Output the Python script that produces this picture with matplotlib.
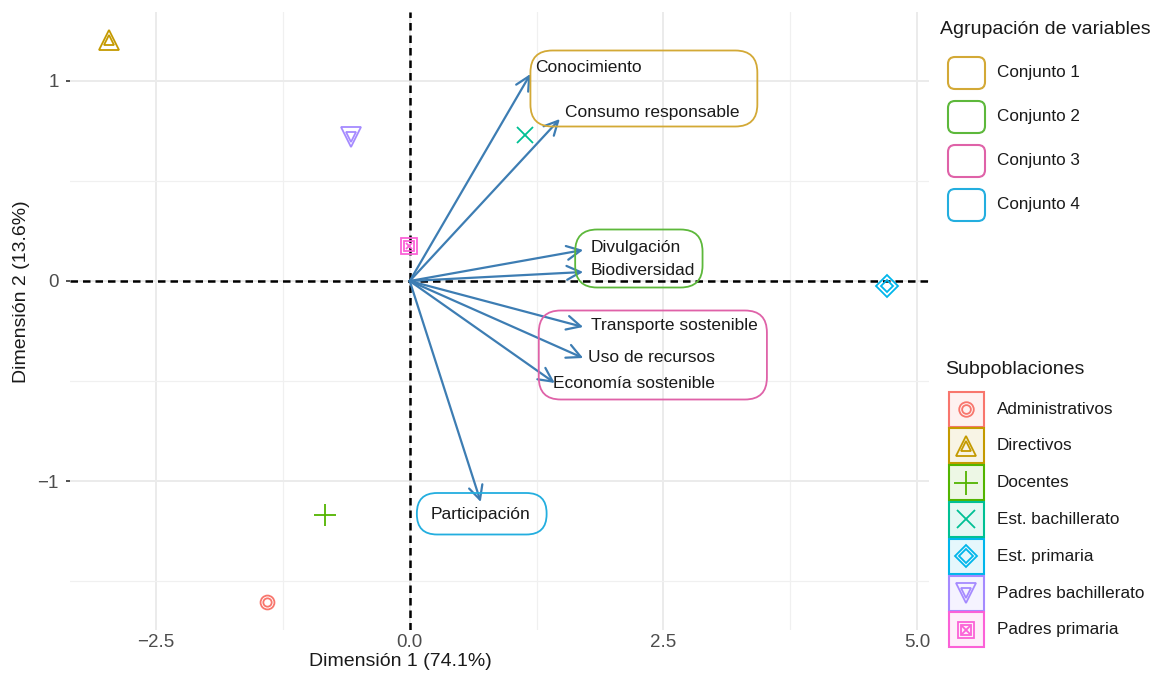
import numpy as np
import matplotlib.pyplot as plt
from matplotlib.patches import FancyBboxPatch, Rectangle
from matplotlib.transforms import IdentityTransform
from matplotlib.colors import to_rgba

plt.rcParams['font.family'] = ['Liberation Sans', 'DejaVu Sans']

# subpopulations (row coordinates)
groups = ['Administrativos', 'Directivos', 'Docentes', 'Est. bachillerato',
          'Est. primaria', 'Padres bachillerato', 'Padres primaria']
grp_x = [-1.41, -2.97, -0.84, 1.14, 4.71, -0.58, -0.01]
grp_y = [-1.605, 1.205, -1.17, 0.73, -0.025, 0.72, 0.175]
grp_colors = ['#F8766D', '#C49A00', '#53B400', '#00C094', '#00B6EB', '#A58AFF', '#FB61D7']

# variables (column coordinates, drawn as arrows)
variables = ['Conocimiento', 'Consumo responsable', 'Divulgación', 'Biodiversidad',
             'Transporte sostenible', 'Uso de recursos', 'Economía sostenible', 'Participación']
var_x = [1.19, 1.48, 1.71, 1.71, 1.71, 1.71, 1.43, 0.70]
var_y = [1.035, 0.81, 0.155, 0.045, -0.23, -0.385, -0.51, -1.105]
var_set = [0, 0, 1, 1, 2, 2, 2, 3]

sets = ['Conjunto 1', 'Conjunto 2', 'Conjunto 3', 'Conjunto 4']
set_colors = ['#D3A936', '#5DB83B', '#DF62A8', '#23AEDF']

# styling
marker_layers = {
    'Administrativos': [('o', 10), ('o', 6)],
    'Directivos': [('^', 14), ('^', 7.5)],
    'Docentes': [('+', 16)],
    'Est. bachillerato': [('x', 12)],
    'Est. primaria': [('D', 11), ('D', 6.5)],
    'Padres bachillerato': [('v', 14), ('v', 7.5)],
    'Padres primaria': [('s', 11), ('s', 7), ('x', 5)],
}
# label offsets in pixels (dx, dy, ha)
label_off = [(5, 6, 'left'), (5, 6, 'left'), (7, 2, 'left'), (7, 1, 'left'),
             (8, 1, 'left'), (5, 0, 'left'), (-2, -1, 'left'), (0, -13, 'center')]
# extra box padding (left, right, bottom, top) in pixels
box_pad = [(0, 18, 6, 10), (8, 8, 9, 11), (14, 9, 8, 8), (14, 16, 12, 9)]
arrow_col = '#3D7DB3'
txt_col = '#1A1A1A'

fig = plt.figure(figsize=(11.52, 6.75), dpi=100)
ax = fig.add_axes([70/1152, 45/675, 859/1152, 618/675])

ax.set_xlim(-3.35, 5.12)
ax.set_ylim(-1.745, 1.345)
xt = [-2.5, 0, 2.5, 5]
yt = [-1, 0, 1]
ax.set_xticks(xt)
ax.set_xticklabels([f'{t:.1f}'.replace('-', '\u2212') for t in xt])
ax.set_yticks(yt)
ax.set_yticklabels([f'{t:d}'.replace('-', '\u2212') for t in yt])
ax.set_xticks([-1.25, 1.25, 3.75], minor=True)
ax.set_yticks([-1.5, -0.5, 0.5], minor=True)
ax.grid(which='major', color='#EBEBEB', lw=1.4)
ax.grid(which='minor', color='#F0F0F0', lw=0.9)
ax.set_axisbelow(True)
for sp in ax.spines.values():
    sp.set_visible(False)
ax.tick_params(axis='x', which='major', length=0, pad=3, labelsize=13.5, labelcolor='#4D4D4D')
ax.tick_params(axis='y', which='major', length=3, width=1.2, color='#333333', pad=5,
               labelsize=13.5, labelcolor='#4D4D4D')
ax.tick_params(which='minor', length=0)

ax.axhline(0, color='black', ls=(0, (3, 2)), lw=1.8, zorder=2)
ax.axvline(0, color='black', ls=(0, (3, 2)), lw=1.8, zorder=2)

# points
for g, x, y, c in zip(groups, grp_x, grp_y, grp_colors):
    for m, s in marker_layers[g]:
        ax.plot(x, y, marker=m, ms=s, mfc='none', mec=c, mew=1.3, ls='none', zorder=3)

# arrows and labels
texts = []
for i, v in enumerate(variables):
    ax.annotate('', xy=(var_x[i], var_y[i]), xytext=(0, 0),
                arrowprops=dict(arrowstyle='->,head_length=1.0,head_width=0.5',
                                color=arrow_col, lw=1.6, shrinkA=0, shrinkB=0,
                                mutation_scale=10), zorder=4)
    dx, dy, ha = label_off[i]
    t = ax.annotate(v, xy=(var_x[i], var_y[i]), xytext=(dx, dy), textcoords='offset pixels',
                    ha=ha, va='center', fontsize=12.5, color=txt_col, zorder=5)
    texts.append(t)

# group boxes around arrow tips and labels
fig.canvas.draw()
rend = fig.canvas.get_renderer()
for k, col in enumerate(set_colors):
    xs, ys = [], []
    for i in range(len(variables)):
        if var_set[i] != k:
            continue
        bb = texts[i].get_window_extent(rend)
        xs += [bb.x0, bb.x1]
        ys += [bb.y0, bb.y1]
        px, py = ax.transData.transform((var_x[i], var_y[i]))
        xs.append(px)
        ys.append(py)
    pl, pr, pb, pt = box_pad[k]
    x0, x1 = min(xs) - pl, max(xs) + pr
    y0, y1 = min(ys) - pb, max(ys) + pt
    rs = min(22, (y1 - y0) / 2 - 0.5)
    box = FancyBboxPatch((x0, y0), x1 - x0, y1 - y0,
                         boxstyle=f'round,pad=0,rounding_size={rs:.1f}',
                         transform=IdentityTransform(), fc='none', ec=col, lw=1.3, zorder=6)
    fig.add_artist(box)

# axis titles
fig.text(400/1152, 1 - 662/675, 'Dimensión 1 (74.1%)', ha='center', va='center',
         fontsize=14, color=txt_col)
fig.text(22/1152, 1 - 292/675, 'Dimensión 2 (13.6%)', ha='center', va='center',
         rotation=90, fontsize=14, color=txt_col)

# legends drawn in pixel space
lg = fig.add_axes([0, 0, 1, 1])
lg.set_xlim(0, 1152)
lg.set_ylim(675, 0)
lg.axis('off')
lg.patch.set_visible(False)

lg.text(940, 30, 'Agrupación de variables', fontsize=14, va='center', ha='left', color=txt_col)
for i, (s, c) in enumerate(zip(sets, set_colors)):
    cy = 73 + i * 44
    lg.add_patch(FancyBboxPatch((948, cy - 16), 37, 32, boxstyle='round,pad=0,rounding_size=7',
                                fc='white', ec=c, lw=1.5))
    lg.text(997, cy, s, fontsize=12.3, va='center', ha='left', color=txt_col)

lg.text(945, 369, 'Subpoblaciones', fontsize=14, va='center', ha='left', color=txt_col)
for i, (g, c) in enumerate(zip(groups, grp_colors)):
    cy = 409 + i * 36.8
    lg.add_patch(Rectangle((948.5, cy - 17.5), 35, 35, fc=to_rgba(c, 0.1), ec=c, lw=1.5))
    for m, s in marker_layers[g]:
        lg.plot(966, cy, marker=m, ms=s * 1.05, mfc='none', mec=c, mew=1.3, ls='none')
    lg.text(997, cy, g, fontsize=12.3, va='center', ha='left', color=txt_col)

fig.savefig('out.png', dpi=100)
